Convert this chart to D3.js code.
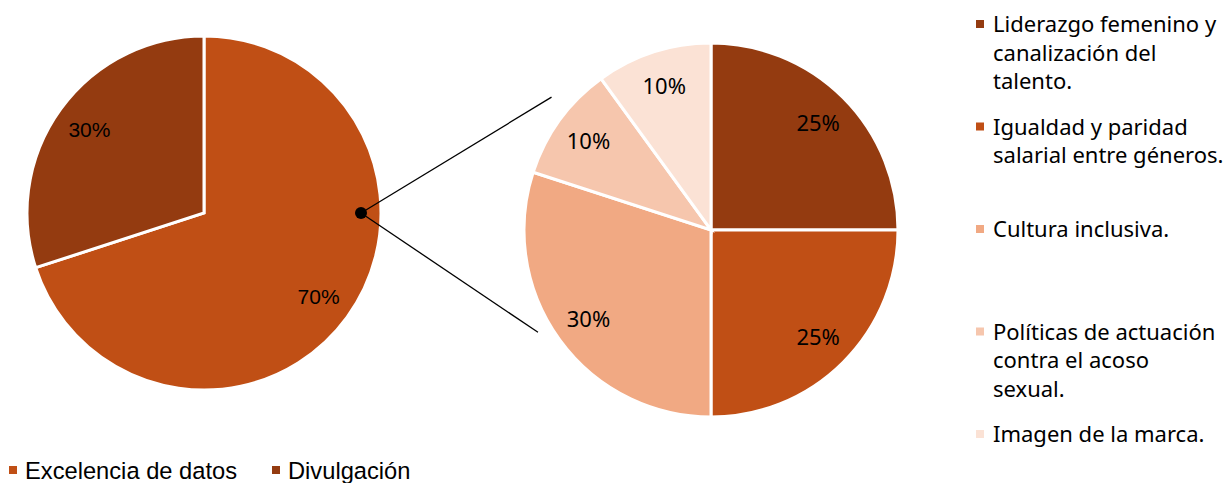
<!DOCTYPE html>
<html><head><meta charset="utf-8">
<script src="https://cdn.jsdelivr.net/npm/d3@7"></script>
<style>body{margin:0;background:#fff}svg{display:block}</style>
</head><body>
<svg id="c" width="1223" height="483"></svg>
<script>
const mainCategories = ["Excelencia de datos", "Divulgación"];
const mainValues = [70, 30];
const mainColors = ["#C04F15", "#943B10"];

const subCategories = ["Liderazgo femenino y canalización del talento.", "Igualdad y paridad salarial entre géneros.", "Cultura inclusiva.", "Políticas de actuación contra el acoso sexual.", "Imagen de la marca."];
const subValues = [25, 25, 30, 10, 10];
const subColors = ["#943B10", "#C04F15", "#F1A983", "#F6C6AD", "#FBE2D5"];
const subLegendLines = [
  ["Liderazgo femenino y", "canalización del", "talento."],
  ["Igualdad y paridad", "salarial entre géneros."],
  ["Cultura inclusiva."],
  ["Políticas de actuación", "contra el acoso", "sexual."],
  ["Imagen de la marca."]
];

const svg = d3.select("#c");
const arialFont = "'Liberation Sans', Arial, sans-serif";
const aptosFont = "'Noto Sans', 'Open Sans', sans-serif";

const mainC = {x: 204, y: 213, r: 177};
const subC = {x: 711, y: 230, r: 187};

const pie = d3.pie().sort(null).value(d => d);

function drawPie(c, values, colors, font, fs, labelFactor) {
  const g = svg.append("g").attr("transform", `translate(${c.x},${c.y})`);
  const arcs = pie(values);
  const arc = d3.arc().innerRadius(0).outerRadius(c.r);
  const labelArc = d3.arc().innerRadius(c.r * labelFactor).outerRadius(c.r * labelFactor);
  g.selectAll("path").data(arcs).join("path")
    .attr("d", arc).attr("fill", (d, i) => colors[i])
    .attr("stroke", "#fff").attr("stroke-width", 3).attr("stroke-linejoin", "miter");
  const tot = d3.sum(values);
  g.selectAll("text").data(arcs).join("text")
    .attr("transform", d => `translate(${labelArc.centroid(d)})`)
    .attr("text-anchor", "middle").attr("dy", "0.36em")
    .attr("font-family", font).attr("font-size", fs).attr("fill", "#000")
    .text(d => Math.round(d.value / tot * 100) + "%");
  return g;
}

drawPie(mainC, mainValues, mainColors, arialFont, 21, 0.8);
drawPie(subC, subValues, subColors, aptosFont, 22, 0.81);

// connector lines
const dot = {x: mainC.x + mainC.r * 0.887, y: mainC.y};
function polar(c, ang, f) {
  const a = ang * Math.PI / 180;
  return [c.x + Math.sin(a) * c.r * f, c.y - Math.cos(a) * c.r * f];
}
const p1 = polar(subC, 309.8, 1.11);
const p2 = polar(subC, 239.4, 1.075);
svg.append("line").attr("x1", dot.x).attr("y1", dot.y).attr("x2", p1[0]).attr("y2", p1[1]).attr("stroke", "#000").attr("stroke-width", 1.3);
svg.append("line").attr("x1", dot.x).attr("y1", dot.y).attr("x2", p2[0]).attr("y2", p2[1]).attr("stroke", "#000").attr("stroke-width", 1.3);
svg.append("circle").attr("cx", dot.x).attr("cy", dot.y).attr("r", 6).attr("fill", "#000");

// right legend
const legY = d3.scalePoint().domain(d3.range(subCategories.length)).range([32, 442]);
const rl = svg.append("g");
subLegendLines.forEach((lines, i) => {
  const y = legY(i);
  rl.append("rect").attr("x", 976).attr("y", y - 12).attr("width", 8).attr("height", 8).attr("fill", subColors[i]);
  const t = rl.append("text").attr("x", 993).attr("y", y)
    .attr("font-family", aptosFont).attr("font-size", 22).attr("fill", "#000");
  lines.forEach((l, j) => t.append("tspan").attr("x", 993).attr("y", y + j * 28.7).text(l));
});

// bottom legend
const bl = svg.append("g");
const bx = [9, 272];
mainCategories.forEach((c, i) => {
  bl.append("rect").attr("x", bx[i]).attr("y", 466).attr("width", 8).attr("height", 8).attr("fill", mainColors[i]);
  bl.append("text").attr("x", bx[i] + 16).attr("y", 479)
    .attr("font-family", arialFont).attr("font-size", 23.7).attr("fill", "#000").text(c);
});
</script>
</body></html>
